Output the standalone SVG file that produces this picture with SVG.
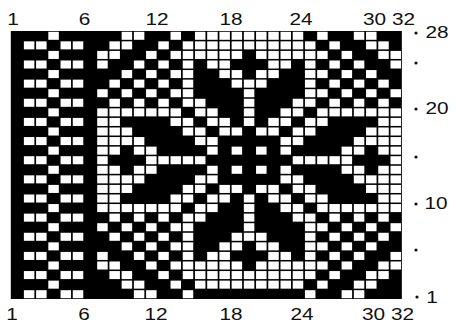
<svg xmlns="http://www.w3.org/2000/svg" xmlns:xlink="http://www.w3.org/1999/xlink" width="456" height="325" viewBox="0 0 456 325">
<style>
.lbl{font-family:"Liberation Sans",Arial,sans-serif;font-size:16px;fill:#111;text-anchor:middle}
.dot{fill:#111}
</style>
<defs>
<rect id="w" x="0.07" y="0.08" width="0.86" height="0.84" fill="#fff"/>
<g id="r0"><use href="#w" x="3"/><use href="#w" x="9"/><use href="#w" x="10"/><use href="#w" x="13"/><use href="#w" x="15"/><use href="#w" x="16"/><use href="#w" x="17"/><use href="#w" x="18"/><use href="#w" x="19"/><use href="#w" x="20"/><use href="#w" x="21"/><use href="#w" x="22"/><use href="#w" x="23"/><use href="#w" x="25"/><use href="#w" x="28"/><use href="#w" x="29"/></g>
<g id="r1"><use href="#w" x="1"/><use href="#w" x="2"/><use href="#w" x="4"/><use href="#w" x="5"/><use href="#w" x="8"/><use href="#w" x="9"/><use href="#w" x="12"/><use href="#w" x="14"/><use href="#w" x="15"/><use href="#w" x="16"/><use href="#w" x="17"/><use href="#w" x="18"/><use href="#w" x="19"/><use href="#w" x="20"/><use href="#w" x="21"/><use href="#w" x="22"/><use href="#w" x="23"/><use href="#w" x="24"/><use href="#w" x="26"/><use href="#w" x="29"/><use href="#w" x="30"/></g>
<g id="r2"><use href="#w" x="3"/><use href="#w" x="7"/><use href="#w" x="8"/><use href="#w" x="11"/><use href="#w" x="13"/><use href="#w" x="14"/><use href="#w" x="15"/><use href="#w" x="16"/><use href="#w" x="17"/><use href="#w" x="18"/><use href="#w" x="20"/><use href="#w" x="21"/><use href="#w" x="22"/><use href="#w" x="23"/><use href="#w" x="24"/><use href="#w" x="25"/><use href="#w" x="27"/><use href="#w" x="30"/><use href="#w" x="31"/></g>
<g id="r3"><use href="#w" x="1"/><use href="#w" x="2"/><use href="#w" x="4"/><use href="#w" x="5"/><use href="#w" x="7"/><use href="#w" x="10"/><use href="#w" x="12"/><use href="#w" x="14"/><use href="#w" x="16"/><use href="#w" x="17"/><use href="#w" x="21"/><use href="#w" x="22"/><use href="#w" x="24"/><use href="#w" x="26"/><use href="#w" x="28"/><use href="#w" x="31"/></g>
<g id="r4"><use href="#w" x="3"/><use href="#w" x="9"/><use href="#w" x="11"/><use href="#w" x="13"/><use href="#w" x="14"/><use href="#w" x="17"/><use href="#w" x="18"/><use href="#w" x="20"/><use href="#w" x="21"/><use href="#w" x="24"/><use href="#w" x="25"/><use href="#w" x="27"/><use href="#w" x="29"/></g>
<g id="r5"><use href="#w" x="1"/><use href="#w" x="2"/><use href="#w" x="4"/><use href="#w" x="5"/><use href="#w" x="8"/><use href="#w" x="10"/><use href="#w" x="12"/><use href="#w" x="14"/><use href="#w" x="18"/><use href="#w" x="19"/><use href="#w" x="20"/><use href="#w" x="24"/><use href="#w" x="26"/><use href="#w" x="28"/><use href="#w" x="30"/></g>
<g id="r6"><use href="#w" x="3"/><use href="#w" x="7"/><use href="#w" x="9"/><use href="#w" x="11"/><use href="#w" x="13"/><use href="#w" x="14"/><use href="#w" x="19"/><use href="#w" x="24"/><use href="#w" x="25"/><use href="#w" x="27"/><use href="#w" x="29"/><use href="#w" x="31"/></g>
<g id="r7"><use href="#w" x="1"/><use href="#w" x="2"/><use href="#w" x="4"/><use href="#w" x="5"/><use href="#w" x="8"/><use href="#w" x="10"/><use href="#w" x="12"/><use href="#w" x="14"/><use href="#w" x="15"/><use href="#w" x="19"/><use href="#w" x="23"/><use href="#w" x="24"/><use href="#w" x="26"/><use href="#w" x="28"/><use href="#w" x="30"/></g>
<g id="r8"><use href="#w" x="3"/><use href="#w" x="7"/><use href="#w" x="8"/><use href="#w" x="9"/><use href="#w" x="10"/><use href="#w" x="11"/><use href="#w" x="12"/><use href="#w" x="13"/><use href="#w" x="15"/><use href="#w" x="16"/><use href="#w" x="19"/><use href="#w" x="22"/><use href="#w" x="23"/><use href="#w" x="25"/><use href="#w" x="26"/><use href="#w" x="27"/><use href="#w" x="28"/><use href="#w" x="29"/><use href="#w" x="30"/><use href="#w" x="31"/></g>
<g id="r9"><use href="#w" x="1"/><use href="#w" x="2"/><use href="#w" x="4"/><use href="#w" x="5"/><use href="#w" x="7"/><use href="#w" x="8"/><use href="#w" x="13"/><use href="#w" x="14"/><use href="#w" x="16"/><use href="#w" x="17"/><use href="#w" x="19"/><use href="#w" x="21"/><use href="#w" x="22"/><use href="#w" x="24"/><use href="#w" x="25"/><use href="#w" x="30"/><use href="#w" x="31"/></g>
<g id="r10"><use href="#w" x="3"/><use href="#w" x="7"/><use href="#w" x="8"/><use href="#w" x="9"/><use href="#w" x="14"/><use href="#w" x="15"/><use href="#w" x="17"/><use href="#w" x="18"/><use href="#w" x="20"/><use href="#w" x="21"/><use href="#w" x="23"/><use href="#w" x="24"/><use href="#w" x="29"/><use href="#w" x="30"/><use href="#w" x="31"/></g>
<g id="r11"><use href="#w" x="1"/><use href="#w" x="2"/><use href="#w" x="4"/><use href="#w" x="5"/><use href="#w" x="7"/><use href="#w" x="8"/><use href="#w" x="9"/><use href="#w" x="10"/><use href="#w" x="15"/><use href="#w" x="16"/><use href="#w" x="22"/><use href="#w" x="23"/><use href="#w" x="28"/><use href="#w" x="29"/><use href="#w" x="30"/><use href="#w" x="31"/></g>
<g id="r12"><use href="#w" x="3"/><use href="#w" x="7"/><use href="#w" x="8"/><use href="#w" x="10"/><use href="#w" x="11"/><use href="#w" x="16"/><use href="#w" x="18"/><use href="#w" x="20"/><use href="#w" x="22"/><use href="#w" x="27"/><use href="#w" x="28"/><use href="#w" x="30"/><use href="#w" x="31"/></g>
<g id="r13"><use href="#w" x="1"/><use href="#w" x="2"/><use href="#w" x="4"/><use href="#w" x="5"/><use href="#w" x="7"/><use href="#w" x="11"/><use href="#w" x="12"/><use href="#w" x="13"/><use href="#w" x="14"/><use href="#w" x="15"/><use href="#w" x="23"/><use href="#w" x="24"/><use href="#w" x="25"/><use href="#w" x="26"/><use href="#w" x="27"/><use href="#w" x="31"/></g>
<g id="r27"><use href="#w" x="1"/><use href="#w" x="2"/><use href="#w" x="4"/><use href="#w" x="5"/><use href="#w" x="10"/><use href="#w" x="11"/><use href="#w" x="14"/><use href="#w" x="24"/><use href="#w" x="27"/><use href="#w" x="28"/></g>
</defs>
<rect width="456" height="325" fill="#fff"/>
<g id="chart" transform="translate(10.8,31) scale(12.22,9.5714)">
<rect id="ground" width="32" height="28" fill="#000"/>
<g id="rows">
<use href="#r0" y="0"/><use href="#r1" y="1"/><use href="#r2" y="2"/><use href="#r3" y="3"/><use href="#r4" y="4"/><use href="#r5" y="5"/><use href="#r6" y="6"/><use href="#r7" y="7"/><use href="#r8" y="8"/><use href="#r9" y="9"/><use href="#r10" y="10"/><use href="#r11" y="11"/><use href="#r12" y="12"/><use href="#r13" y="13"/>
<use href="#r12" y="14"/><use href="#r11" y="15"/><use href="#r10" y="16"/><use href="#r9" y="17"/><use href="#r8" y="18"/><use href="#r7" y="19"/><use href="#r6" y="20"/><use href="#r5" y="21"/><use href="#r4" y="22"/><use href="#r3" y="23"/><use href="#r2" y="24"/><use href="#r1" y="25"/><use href="#r0" y="26"/><use href="#r27" y="27"/>
</g>
</g>
<g id="top-labels">
<text class="lbl" transform="translate(13,25) scale(1.3,1)">1</text>
<text class="lbl" transform="translate(84.5,25) scale(1.3,1)">6</text>
<text class="lbl" transform="translate(157,25) scale(1.3,1)">12</text>
<text class="lbl" transform="translate(231,25) scale(1.3,1)">18</text>
<text class="lbl" transform="translate(301,25) scale(1.3,1)">24</text>
<text class="lbl" transform="translate(389,25) scale(1.3,1)">30 32</text>
</g>
<g id="bottom-labels">
<text class="lbl" transform="translate(12,320) scale(1.3,1)">1</text>
<text class="lbl" transform="translate(84,320) scale(1.3,1)">6</text>
<text class="lbl" transform="translate(156,320) scale(1.3,1)">12</text>
<text class="lbl" transform="translate(231,320) scale(1.3,1)">18</text>
<text class="lbl" transform="translate(302,320) scale(1.3,1)">24</text>
<text class="lbl" transform="translate(388,320) scale(1.3,1)">30 32</text>
</g>
<g id="row-labels">
<circle class="dot" cx="416" cy="33" r="1.6"/>
<text class="lbl" transform="translate(437,38) scale(1.3,1)">28</text>
<circle class="dot" cx="416" cy="63" r="1.6"/>
<circle class="dot" cx="416" cy="109" r="1.6"/>
<text class="lbl" transform="translate(437,114) scale(1.3,1)">20</text>
<circle class="dot" cx="416" cy="157" r="1.6"/>
<circle class="dot" cx="416" cy="204" r="1.6"/>
<text class="lbl" transform="translate(436,209) scale(1.3,1)">10</text>
<circle class="dot" cx="416" cy="250" r="1.6"/>
<circle class="dot" cx="417" cy="297" r="1.6"/>
<text class="lbl" transform="translate(432,303) scale(1.3,1)">1</text>
</g>
</svg>
